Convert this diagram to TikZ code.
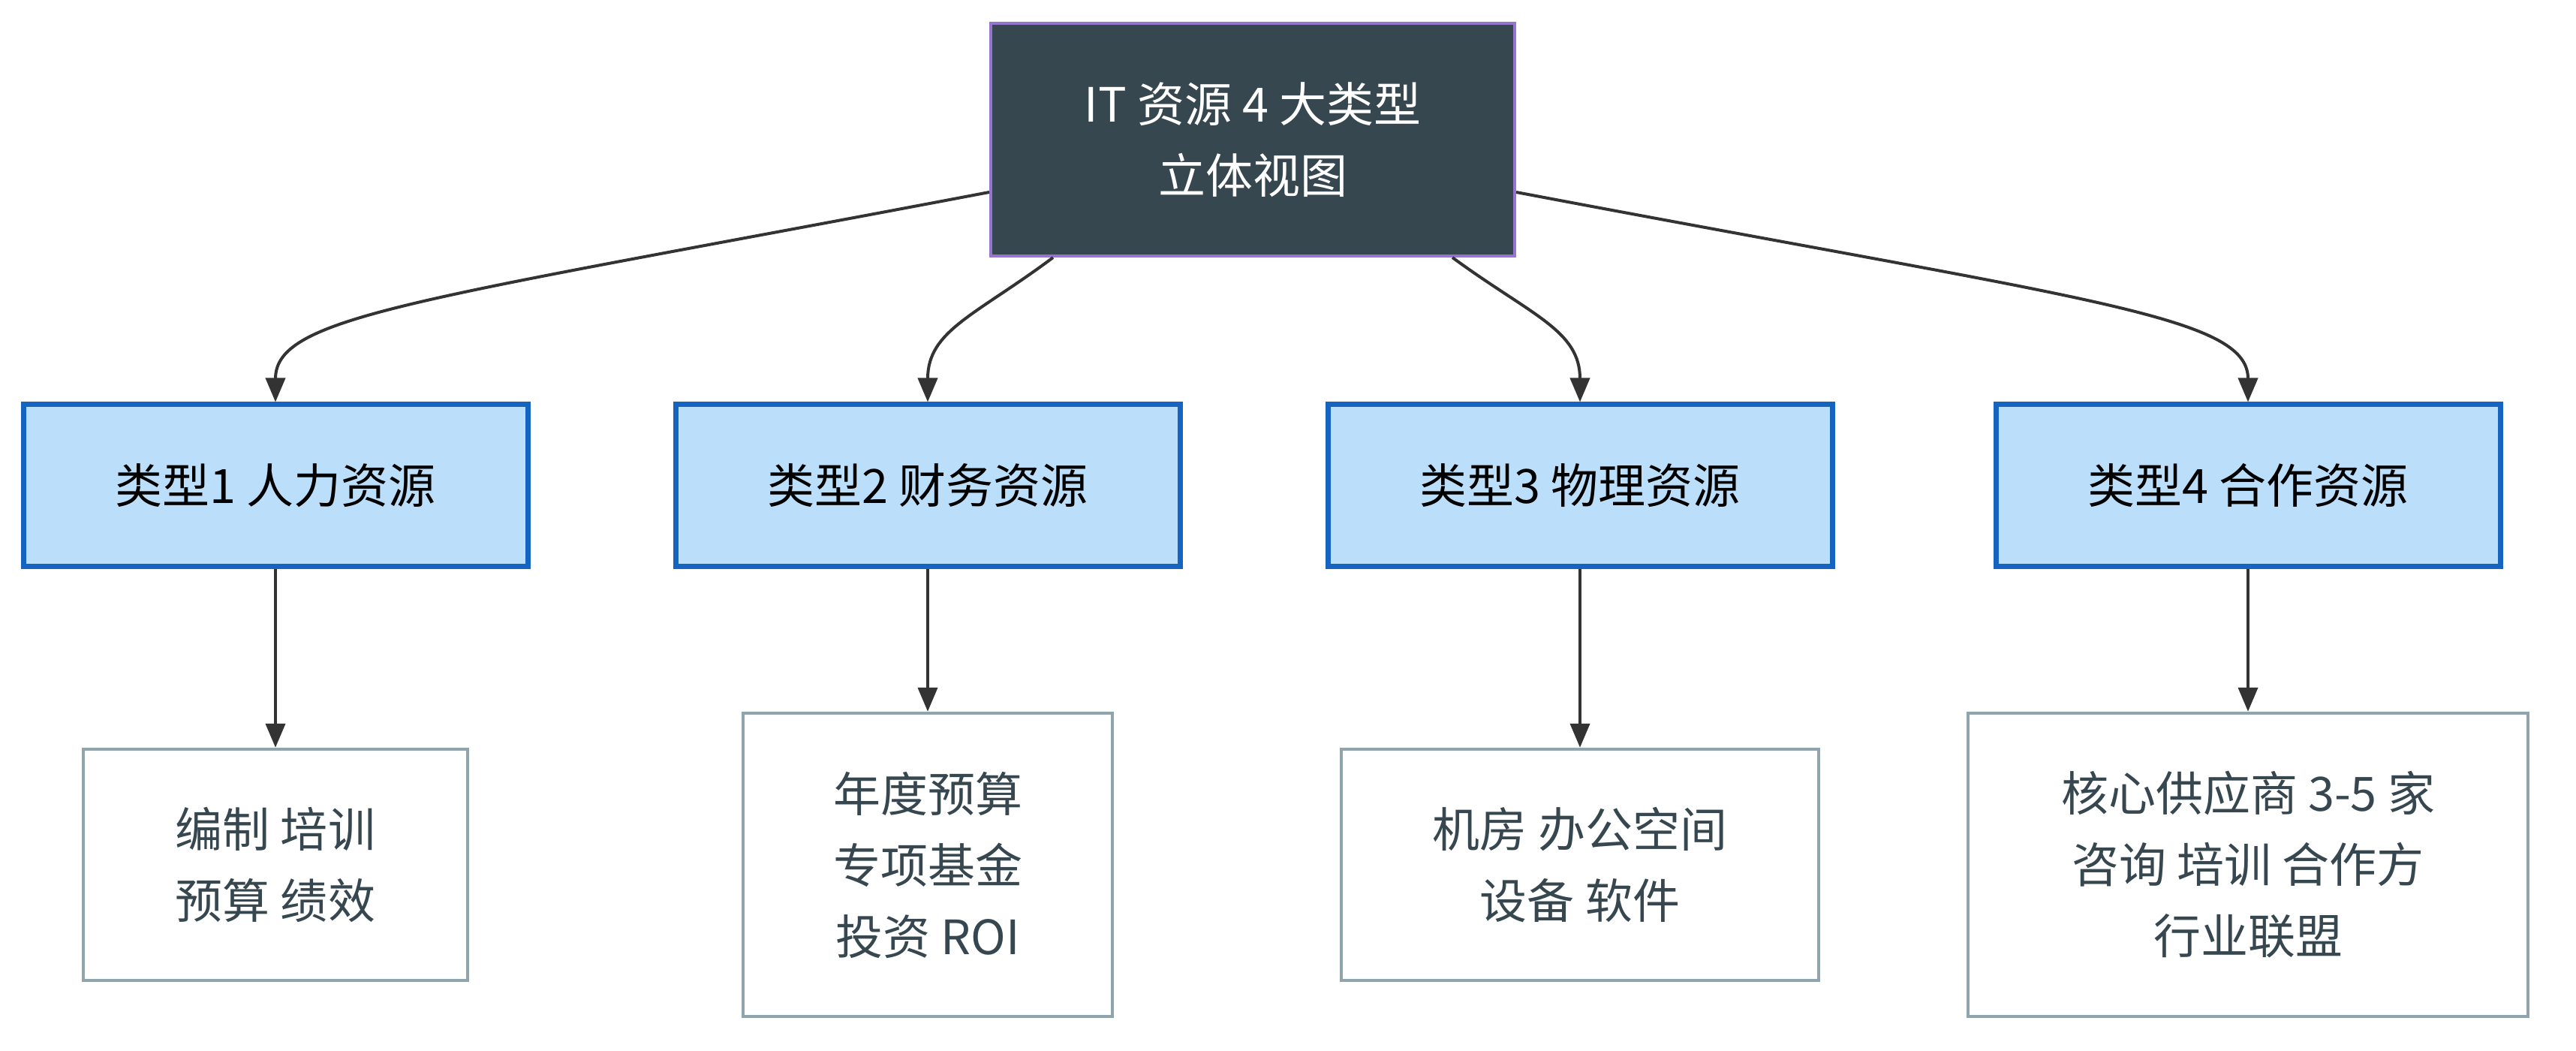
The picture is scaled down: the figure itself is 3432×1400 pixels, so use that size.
\documentclass[tikz,border=0pt]{standalone}
\usepackage{fontspec}
\setmainfont{Noto Sans CJK SC}
\usetikzlibrary{arrows.meta}
\definecolor{topfill}{HTML}{37474F}
\definecolor{topdraw}{HTML}{9575CD}
\definecolor{catfill}{HTML}{BBDEFB}
\definecolor{catdraw}{HTML}{1565C0}
\definecolor{leafdraw}{HTML}{90A4AE}
\definecolor{leaftext}{HTML}{37474F}
\definecolor{edgecol}{HTML}{333333}
\tikzset{
  basebox/.style={rectangle, inner sep=0pt, align=center,
    font=\fontsize{31.5}{47.5}\selectfont},
  topbox/.style={basebox, fill=topfill, draw=topdraw, line width=2pt, text=white},
  catbox/.style={basebox, fill=catfill, draw=catdraw, line width=3.5pt, text=black},
  leafbox/.style={basebox, fill=white, draw=leafdraw, line width=2.2pt, text=leaftext},
  edge/.style={draw=edgecol, line width=2pt, -{Triangle[length=16pt,width=13pt]}},
}
\begin{document}
\begin{tikzpicture}[x=0.5pt,y=-0.5pt]
\useasboundingbox (0,0) rectangle (3432,1400);
\node[topbox, minimum width=349pt, minimum height=155pt] (top) at (1669,186) {IT 资源 4 大类型\\立体视图};

\node[catbox, minimum width=336pt, minimum height=108pt] (c1) at (367,647) {类型1 人力资源};
\node[catbox, minimum width=336pt, minimum height=108pt] (c2) at (1236,647) {类型2 财务资源};
\node[catbox, minimum width=336pt, minimum height=108pt] (c3) at (2105,647) {类型3 物理资源};
\node[catbox, minimum width=336pt, minimum height=108pt] (c4) at (2995,647) {类型4 合作资源};

\node[leafbox, minimum width=256pt, minimum height=154pt] (l1) at (367,1152) {编制 培训\\预算 绩效};
\node[leafbox, minimum width=246pt, minimum height=202pt] (l2) at (1236,1152) {年度预算\\专项基金\\投资 ROI};
\node[leafbox, minimum width=318pt, minimum height=154pt] (l3) at (2105,1152) {机房 办公空间\\设备 软件};
\node[leafbox, minimum width=373pt, minimum height=202pt] (l4) at (2995,1152) {核心供应商 3-5 家\\咨询 培训 合作方\\行业联盟};

\draw[edge] ([yshift=-35pt]top.west) .. controls (560,400) and (367,420) .. (c1.north);
\draw[edge] ([xshift=-133pt]top.south) .. controls (1300,420) and (1236,440) .. (c2.north);
\draw[edge] ([xshift=133pt]top.south) .. controls (2040,420) and (2105,440) .. (c3.north);
\draw[edge] ([yshift=-35pt]top.east) .. controls (2780,400) and (2995,420) .. (c4.north);

\draw[edge] (c1.south) -- (l1.north);
\draw[edge] (c2.south) -- (l2.north);
\draw[edge] (c3.south) -- (l3.north);
\draw[edge] (c4.south) -- (l4.north);
\end{tikzpicture}
\end{document}
